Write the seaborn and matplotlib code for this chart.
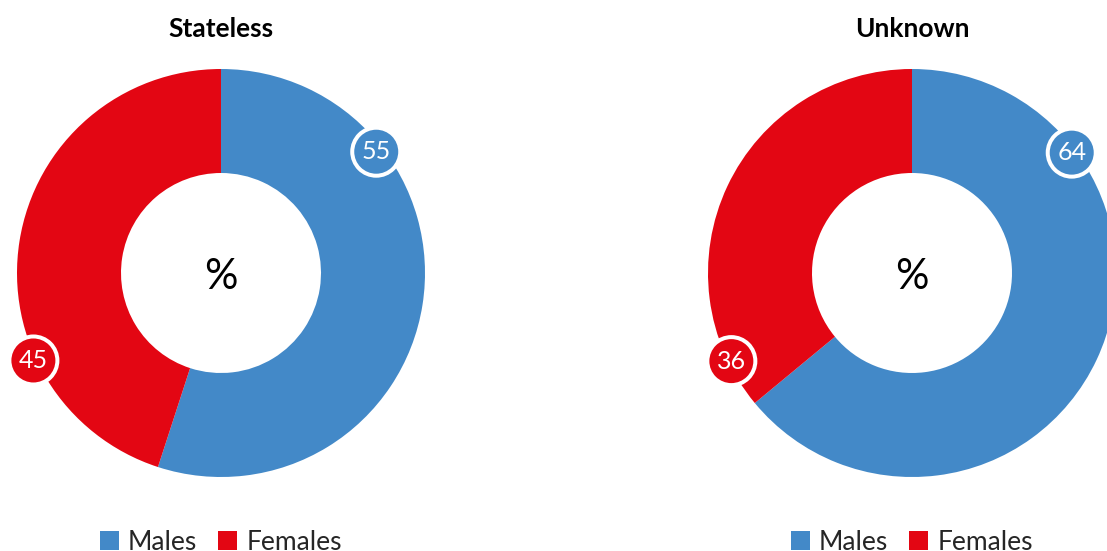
import numpy as np
import seaborn as sns
import matplotlib.pyplot as plt
from matplotlib.patches import Circle, Patch

sns.set_theme(style="white")
plt.rcParams['font.family'] = ['Lato', 'DejaVu Sans']

titles = ["Stateless", "Unknown"]
categories = ["Males", "Females"]
males = [55, 64]
females = [45, 36]

colors = ["#4389C8", "#E30613"]

W, H = 1107, 551
fig = plt.figure(figsize=(W / 100, H / 100), dpi=100)
ax = fig.add_axes([0, 0, 1, 1])
ax.set_xlim(0, W)
ax.set_ylim(0, H)
ax.set_aspect("equal")
ax.axis("off")

centers_x = [221, 912]
cy = H - 273
radius = 204
ring = 104
# label badge positions (angle deg from +x, distance from center)
badge_pos = [[(38, 197), (205, 207)], [(37, 200), (206, 201)]]

for i, title in enumerate(titles):
    cx = centers_x[i]
    vals = [males[i], females[i]]
    ax.pie(vals, colors=colors, startangle=90, counterclock=False,
           center=(cx, cy), radius=radius, frame=True,
           wedgeprops=dict(width=ring, linewidth=0))
    ax.text(cx, H - 29, title, ha="center", va="center",
            fontsize=19, fontweight="bold", color="black")
    ax.text(cx, cy - 4, "%", ha="center", va="center", fontsize=30, color="black")
    for j, v in enumerate(vals):
        ang, dist = badge_pos[i][j]
        bx = cx + dist * np.cos(np.radians(ang))
        by = cy + dist * np.sin(np.radians(ang))
        ax.add_patch(Circle((bx, by), 26, facecolor="white", edgecolor="none", zorder=5))
        ax.add_patch(Circle((bx, by), 22, facecolor=colors[j], edgecolor="none", zorder=6))
        ax.text(bx, by, str(v), ha="center", va="center", fontsize=18,
                color="white", zorder=7)

ax.set_xlim(0, W)
ax.set_ylim(0, H)
ax.axis("off")

handles = [Patch(facecolor=c, edgecolor="none") for c in colors]
for cx in centers_x:
    fig.legend(handles, categories, loc="center", bbox_to_anchor=(cx / W, 9 / H),
               ncol=2, frameon=False, fontsize=19, handlelength=0.72,
               handleheight=0.72, handletextpad=0.35, columnspacing=0.8,
               borderpad=0)

fig.savefig("out.png", dpi=100)
